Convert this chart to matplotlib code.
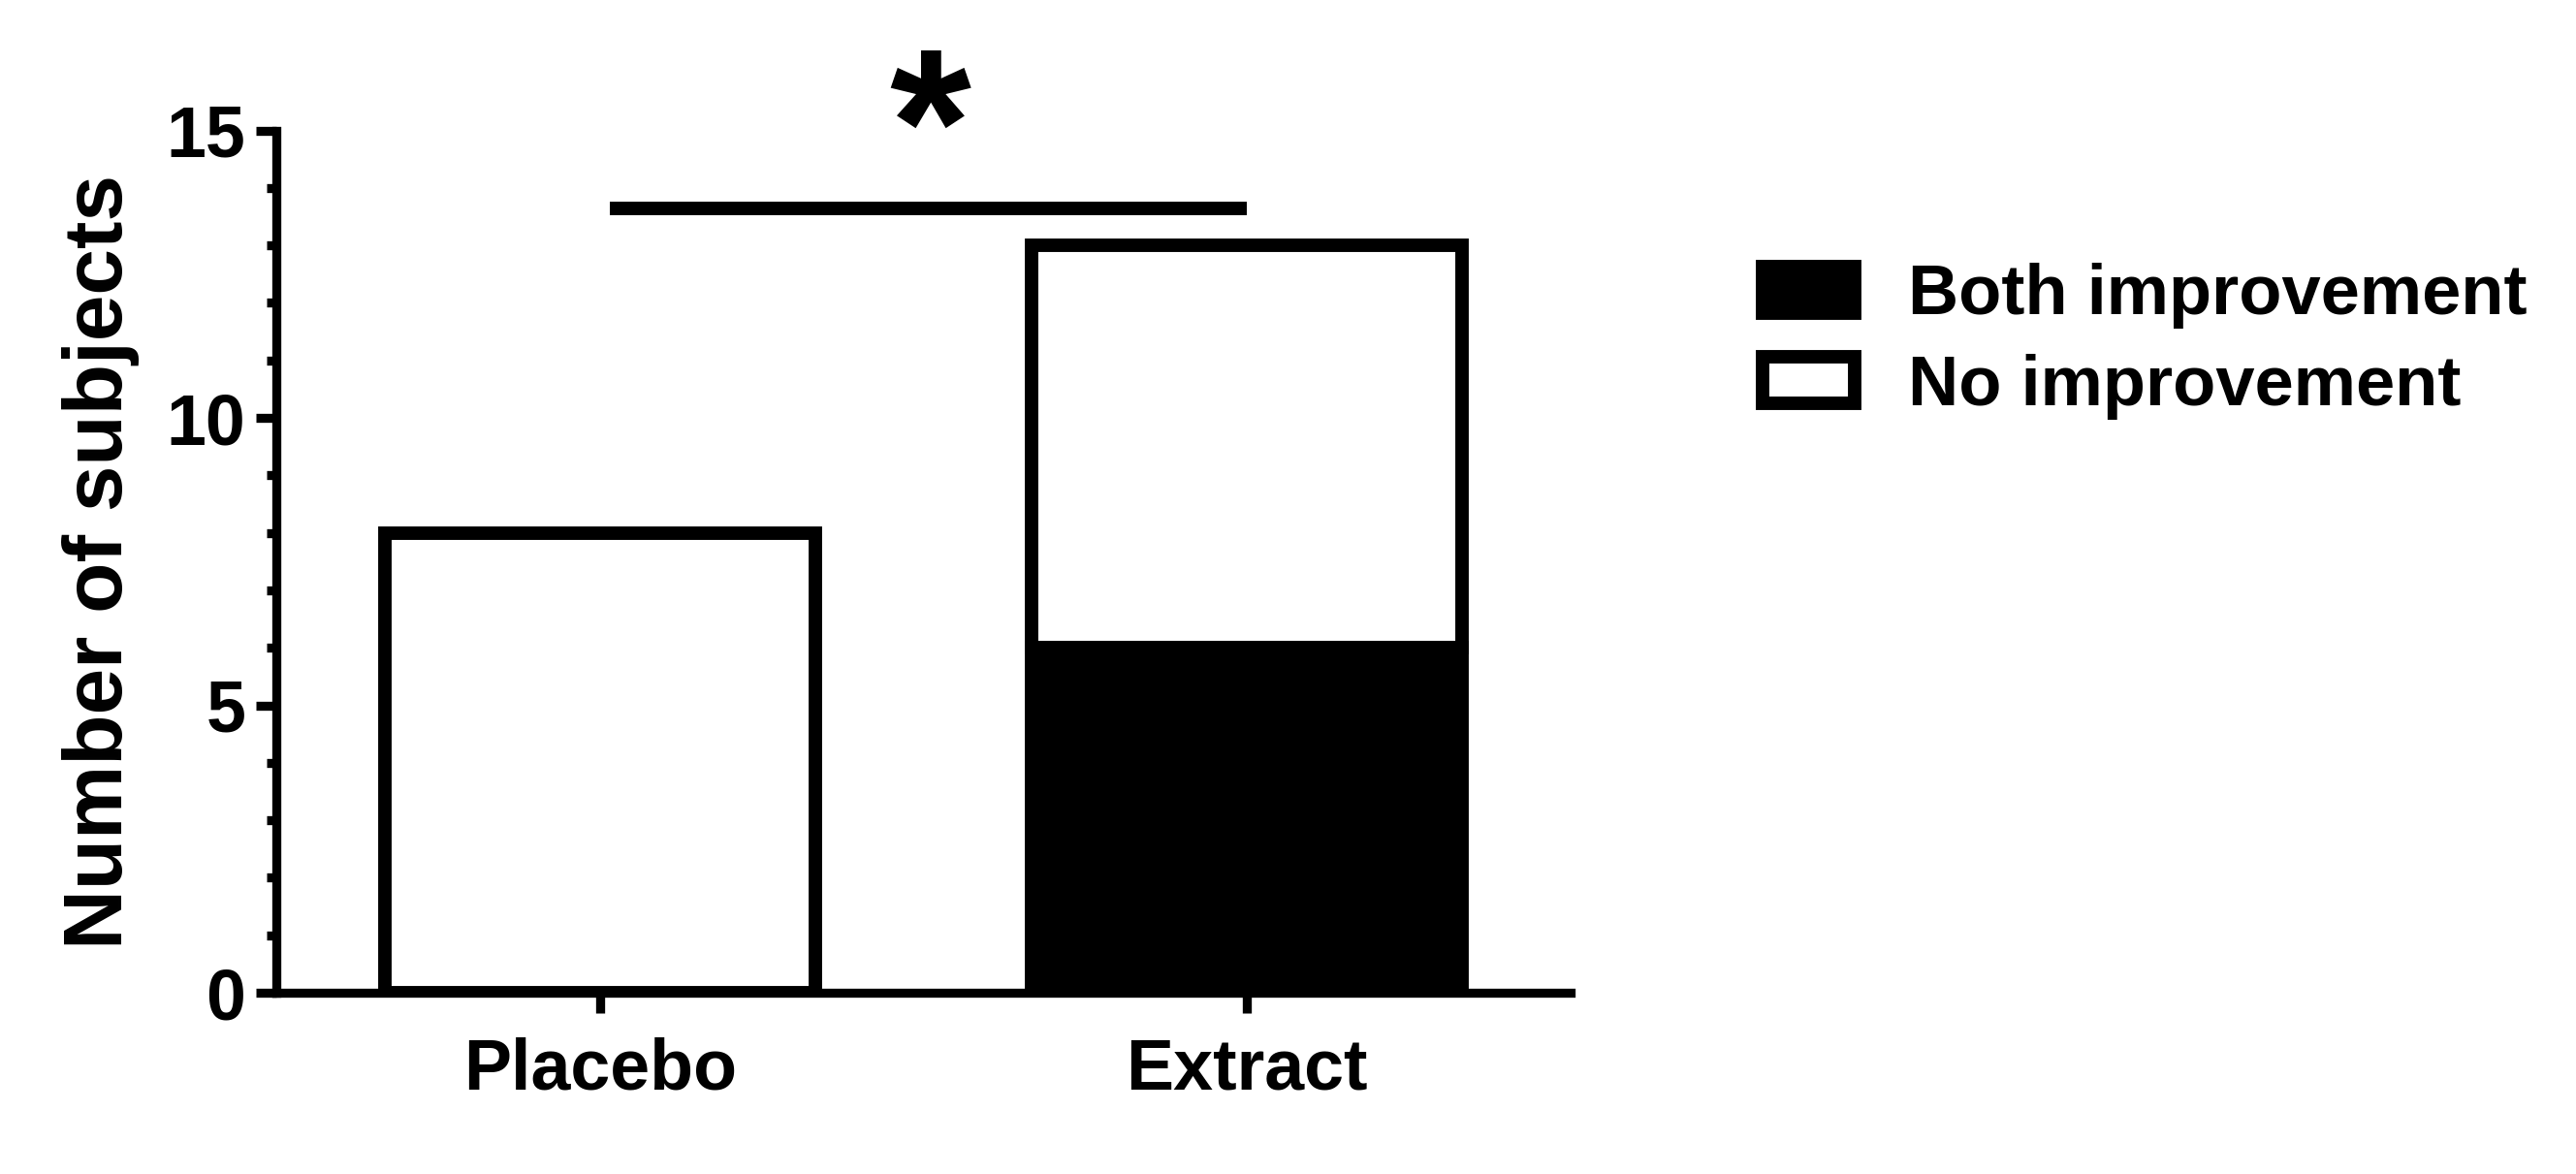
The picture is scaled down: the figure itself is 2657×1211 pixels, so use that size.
import numpy as np
import matplotlib
matplotlib.use('Agg')
import matplotlib.pyplot as plt
from matplotlib.ticker import MultipleLocator

plt.rcParams['font.family'] = ['Liberation Sans', 'DejaVu Sans']
plt.rcParams['font.weight'] = 'bold'

groups = ['Placebo', 'Extract']
both_improvement = [0, 6]
no_improvement = [8, 7]
series_names = ['Both improvement', 'No improvement']
sig_level = 13.65
sig_mark = '*'

x = np.arange(len(groups))

fig = plt.figure(figsize=(26.57, 12.11), dpi=100)
ax = fig.add_axes([0.1073, 0.1544, 0.5024, 0.7345])

ax.bar(x, both_improvement, width=0.665, color='black', edgecolor='black',
       linewidth=10, label=series_names[0], zorder=3)
ax.bar(x, no_improvement, bottom=both_improvement, width=0.665, color='white',
       edgecolor='black', linewidth=10, label=series_names[1], zorder=3)

# significance bar
ax.plot([x[0] + 0.015, x[1]], [sig_level, sig_level], color='black', lw=10,
        solid_capstyle='butt', zorder=4)
ax.text((x[0] + x[1]) / 2 + 0.01, 13.9, sig_mark, ha='center', va='baseline',
        fontsize=155, fontweight='bold', clip_on=False)

ax.set_xlim(-0.5, 1.5)
ax.set_ylim(0, 15)
ax.set_xticks(x)
ax.set_xticklabels(groups)
ax.yaxis.set_major_locator(MultipleLocator(5))
ax.yaxis.set_minor_locator(MultipleLocator(1))

for s in ['top', 'right']:
    ax.spines[s].set_visible(False)
for s in ['left', 'bottom']:
    ax.spines[s].set_linewidth(6.7)

ax.tick_params(axis='both', which='major', direction='out', length=15, width=6.7,
               labelsize=53)
ax.tick_params(axis='y', which='major', pad=8)
ax.tick_params(axis='x', which='major', pad=18)
ax.tick_params(axis='y', which='minor', direction='out', length=7.2, width=6.7)
for lab in ax.get_xticklabels() + ax.get_yticklabels():
    lab.set_fontweight('bold')

ax.set_ylabel('Number of subjects', fontsize=61.7, fontweight='bold', labelpad=20)

leg = ax.legend(loc='upper left', bbox_to_anchor=(0.6843, 0.776),
                bbox_transform=fig.transFigure, frameon=False, fontsize=52,
                handlelength=1.31, handleheight=0.65, handletextpad=0.76,
                labelspacing=0.35, borderpad=0, borderaxespad=0)
for t in leg.get_texts():
    t.set_fontweight('bold')

fig.savefig('out.png', dpi=100)
